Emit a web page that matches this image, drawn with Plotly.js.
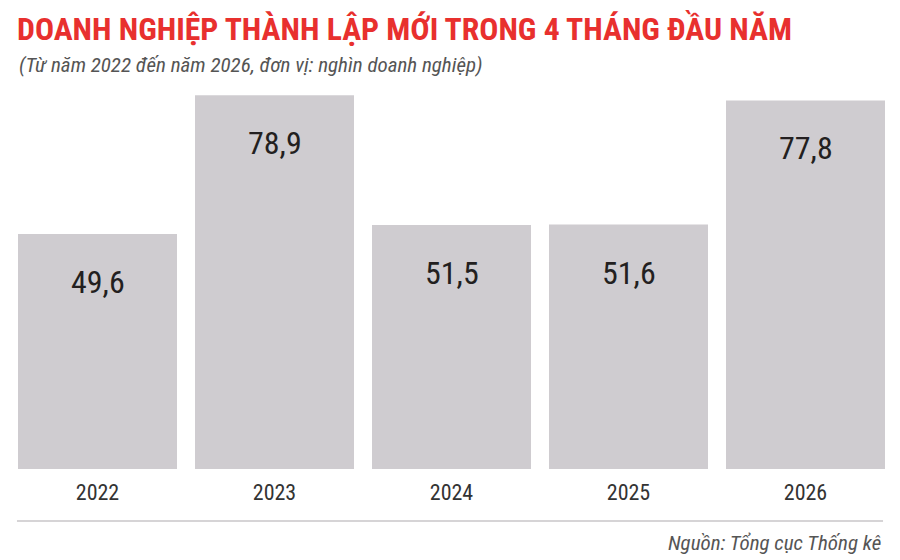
<!DOCTYPE html>
<html>
<head>
<meta charset="utf-8">
<script src="https://cdn.plot.ly/plotly-3.0.1.min.js"></script>
<style>
  html, body { margin: 0; padding: 0; background: #fff; }
  #chart { width: 900px; height: 560px; }
</style>
</head>
<body>
<div id="chart"></div>
<script>
// data
var years = ['2022', '2023', '2024', '2025', '2026'];
var newFirms = [49.6, 78.9, 51.5, 51.6, 77.8];   // nghìn doanh nghiệp
var valueLabels = ['49,6', '78,9', '51,5', '51,6', '77,8'];

var condensed = '"Roboto Condensed", "Liberation Sans Narrow", "DejaVu Sans Condensed", sans-serif';

var trace = {
  x: years,
  y: newFirms,
  type: 'bar',
  marker: { color: '#cfccd0' },
  hoverinfo: 'none'
};

// value labels sit inside the bar, a bit under its top
// (numeric-looking categories: annotations are placed by index)
var notes = [];
for (var i = 0; i < years.length; i++) {
  notes.push({
    x: i, y: newFirms[i], xref: 'x', yref: 'y',
    text: valueLabels[i], showarrow: false,
    yanchor: 'middle', yshift: -48,
    font: { family: condensed, size: 32, color: '#231f20' }
  });
}
notes.push({
  xref: 'paper', yref: 'paper', x: 0.9876, y: -0.195,
  xanchor: 'right', yanchor: 'middle',
  text: '<i>Nguồn: Tổng cục Thống kê</i>', showarrow: false,
  font: { family: condensed, size: 21, color: '#555' }
});
notes.push({
  xref: 'paper', yref: 'paper', x: 0.009, y: 1.066,
  xanchor: 'left', yanchor: 'middle',
  text: '<i>(Từ năm 2022 đến năm 2026, đơn vị: nghìn doanh nghiệp)</i>', showarrow: false,
  font: { family: condensed, size: 21, color: '#555' }
});

var layout = {
  width: 900,
  height: 560,
  margin: { l: 9, r: 6, t: 90, b: 91 },
  paper_bgcolor: '#fff',
  plot_bgcolor: '#fff',
  showlegend: false,
  bargap: 0.1017,
  title: {
    text: '<b>DOANH NGHIỆP THÀNH LẬP MỚI TRONG 4 THÁNG ĐẦU NĂM</b>',
    xref: 'container', yref: 'container',
    x: 17 / 900, xanchor: 'left',
    y: 1 - 29 / 560, yanchor: 'middle',
    font: { family: condensed, size: 31.7, color: '#e8302e' }
  },
  xaxis: {
    type: 'category',
    range: [-0.5, 4.5],
    showline: false, showgrid: false, zeroline: false,
    ticks: '', ticklabelstandoff: 8,
    tickfont: { family: condensed, size: 22, color: '#333' }
  },
  yaxis: {
    range: [0, 80],
    visible: false,
    showgrid: false, zeroline: false
  },
  shapes: [{
    type: 'line', xref: 'paper', yref: 'paper',
    x0: 0.009, x1: 0.9876, y0: -0.137, y1: -0.137,
    line: { color: '#d6d4d6', width: 2 }
  }],
  annotations: notes
};

Plotly.newPlot('chart', [trace], layout, { displayModeBar: false, staticPlot: true });
</script>
</body>
</html>
